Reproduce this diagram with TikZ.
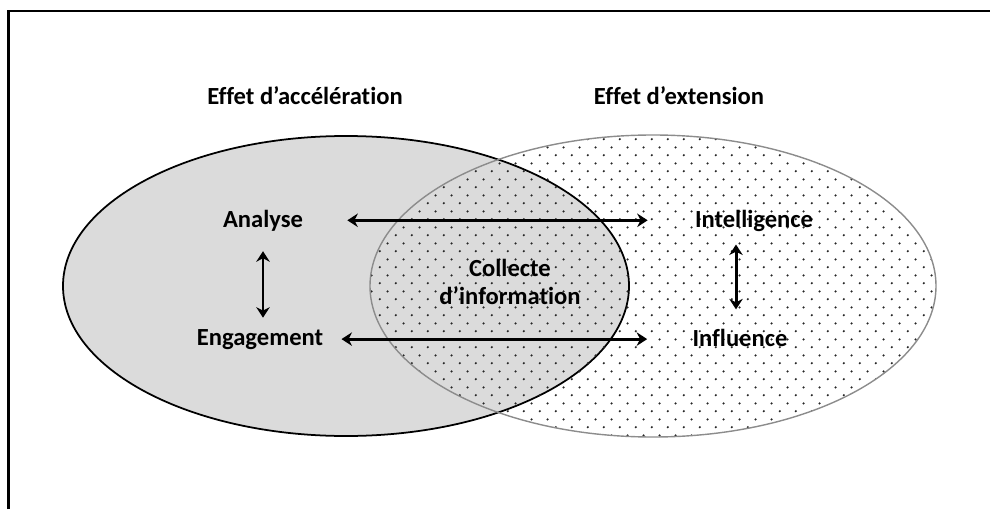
\documentclass[tikz,border=0pt]{standalone}
\usepackage{fontspec}
\setmainfont{Carlito}[Ligatures={NoCommon}]
\usetikzlibrary{arrows.meta,patterns}

\pgfdeclarepatternformonly{stagdots}{\pgfpointorigin}{\pgfqpoint{8.93pt}{8.93pt}}{\pgfqpoint{8.93pt}{8.93pt}}{%
    \pgfpathcircle{\pgfqpoint{2.23pt}{2.23pt}}{0.7pt}%
    \pgfpathcircle{\pgfqpoint{6.7pt}{6.7pt}}{0.7pt}%
    \pgfusepath{fill}}

\begin{document}
\begin{tikzpicture}[
        lbl/.style={font=\fontsize{14}{16}\selectfont\bfseries, inner sep=0pt, align=center},
        arr/.style={{Stealth[length=2.1mm,width=2.7mm]}-{Stealth[length=2.1mm,width=2.7mm]}, line width=1.7pt}]
            \useasboundingbox (0,0) rectangle (19.8,10.18);
            \draw[line width=1.7pt] (0.17,0) -- (0.17,9.96) -- (19.8,9.96);

            \fill[black!14] (6.92,4.46) ellipse [x radius=5.66, y radius=3];
            \draw[line width=1pt] (6.92,4.46) ellipse [x radius=5.66, y radius=3];
            \draw[black!45, line width=0.8pt, pattern=stagdots, pattern color=black!85] (13.06,4.46) ellipse [x radius=5.66, y radius=3.02];

            \node[lbl, anchor=base] (acc) at (6.1,8.1) {Effet d’accélération};
            \node[lbl, anchor=base] (ext) at (13.58,8.1) {Effet d’extension};
            \node[lbl, anchor=base] (analyse) at (5.26,5.64) {Analyse};
            \node[lbl, anchor=base] (engagement) at (5.2,3.28) {Engagement};
            \node[lbl, anchor=base] (intelligence) at (15.08,5.64) {Intelligence};
            \node[lbl, anchor=base] (influence) at (14.8,3.26) {Influence};
            \node[lbl] (collecte) at (10.2,4.54) {Collecte\\d’information};

            \draw[arr] ([xshift=0.88cm]analyse.east) -- ([xshift=-0.94cm]analyse.east -| intelligence.west);
            \draw[arr] ([xshift=0.36cm]engagement.east) -- ([xshift=-0.9cm]engagement.east -| influence.west);
            \draw[arr] ([yshift=-0.4cm]analyse.south) -- ([yshift=0.22cm]analyse.south |- engagement.north);
            \draw[arr] ([xshift=-0.08cm,yshift=-0.26cm]intelligence.south -| influence.north) -- ([xshift=-0.08cm,yshift=0.38cm]influence.north);
\end{tikzpicture}
\end{document}
